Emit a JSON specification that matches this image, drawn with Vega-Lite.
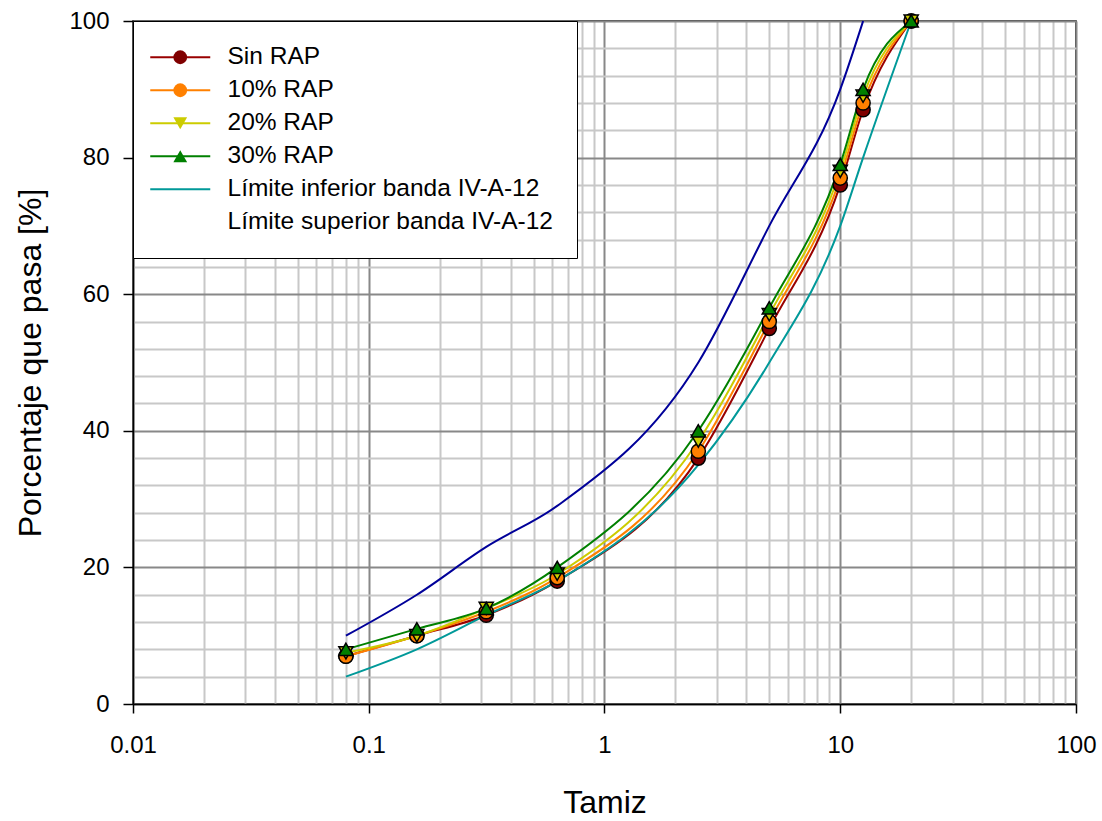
{
  "$schema": "https://vega.github.io/schema/vega-lite/v6.json",
  "autosize": "none",
  "width": 943,
  "height": 683,
  "padding": {"left": 133, "top": 21, "right": 26, "bottom": 117},
  "background": "white",
  "config": {
    "font": "Liberation Sans",
    "view": {"stroke": "black", "strokeWidth": 1.5},
    "axis": {"labelFont": "Liberation Sans", "titleFont": "Liberation Sans", "titleFontWeight": "normal", "labelColor": "black", "titleColor": "black"}
  },
  "datasets": {
    "gran": [
      {"t": 0.08, "p": 7, "s": "Sin RAP"},
      {"t": 0.16, "p": 10, "s": "Sin RAP"},
      {"t": 0.315, "p": 13, "s": "Sin RAP"},
      {"t": 0.63, "p": 18, "s": "Sin RAP"},
      {"t": 2.5, "p": 36, "s": "Sin RAP"},
      {"t": 5, "p": 55, "s": "Sin RAP"},
      {"t": 10, "p": 76, "s": "Sin RAP"},
      {"t": 12.5, "p": 87, "s": "Sin RAP"},
      {"t": 20, "p": 100, "s": "Sin RAP"},
      {"t": 0.08, "p": 7, "s": "10% RAP"},
      {"t": 0.16, "p": 10, "s": "10% RAP"},
      {"t": 0.315, "p": 13.5, "s": "10% RAP"},
      {"t": 0.63, "p": 18.5, "s": "10% RAP"},
      {"t": 2.5, "p": 37, "s": "10% RAP"},
      {"t": 5, "p": 56, "s": "10% RAP"},
      {"t": 10, "p": 77, "s": "10% RAP"},
      {"t": 12.5, "p": 88, "s": "10% RAP"},
      {"t": 20, "p": 100, "s": "10% RAP"},
      {"t": 0.08, "p": 7.5, "s": "20% RAP"},
      {"t": 0.16, "p": 10, "s": "20% RAP"},
      {"t": 0.315, "p": 14, "s": "20% RAP"},
      {"t": 0.63, "p": 19, "s": "20% RAP"},
      {"t": 2.5, "p": 38.5, "s": "20% RAP"},
      {"t": 5, "p": 57, "s": "20% RAP"},
      {"t": 10, "p": 78, "s": "20% RAP"},
      {"t": 12.5, "p": 89, "s": "20% RAP"},
      {"t": 20, "p": 100, "s": "20% RAP"},
      {"t": 0.08, "p": 8, "s": "30% RAP"},
      {"t": 0.16, "p": 11, "s": "30% RAP"},
      {"t": 0.315, "p": 14, "s": "30% RAP"},
      {"t": 0.63, "p": 20, "s": "30% RAP"},
      {"t": 2.5, "p": 40, "s": "30% RAP"},
      {"t": 5, "p": 58, "s": "30% RAP"},
      {"t": 10, "p": 79, "s": "30% RAP"},
      {"t": 12.5, "p": 90, "s": "30% RAP"},
      {"t": 20, "p": 100, "s": "30% RAP"},
      {"t": 0.08, "p": 4, "s": "Límite inferior banda IV-A-12"},
      {"t": 0.16, "p": 8, "s": "Límite inferior banda IV-A-12"},
      {"t": 0.315, "p": 13, "s": "Límite inferior banda IV-A-12"},
      {"t": 0.63, "p": 18, "s": "Límite inferior banda IV-A-12"},
      {"t": 2.5, "p": 35, "s": "Límite inferior banda IV-A-12"},
      {"t": 5, "p": 50, "s": "Límite inferior banda IV-A-12"},
      {"t": 10, "p": 70, "s": "Límite inferior banda IV-A-12"},
      {"t": 12.5, "p": 80, "s": "Límite inferior banda IV-A-12"},
      {"t": 20, "p": 100, "s": "Límite inferior banda IV-A-12"},
      {"t": 0.08, "p": 10, "s": "Límite superior banda IV-A-12"},
      {"t": 0.16, "p": 16, "s": "Límite superior banda IV-A-12"},
      {"t": 0.315, "p": 23, "s": "Límite superior banda IV-A-12"},
      {"t": 0.63, "p": 29, "s": "Límite superior banda IV-A-12"},
      {"t": 2.5, "p": 50, "s": "Límite superior banda IV-A-12"},
      {"t": 5, "p": 70, "s": "Límite superior banda IV-A-12"},
      {"t": 10, "p": 90, "s": "Límite superior banda IV-A-12"},
      {"t": 12.5, "p": 100, "s": "Límite superior banda IV-A-12"}
    ]
  },
  "data": {"name": "gran"},
  "encoding": {
    "x": {
      "field": "t", "type": "quantitative",
      "scale": {"type": "log", "domain": [0.01, 100], "nice": false},
      "axis": {
        "title": "Tamiz",
        "titleFontSize": 32,
        "titlePadding": 30,
        "labelFontSize": 24,
        "labelPadding": 20,
        "format": "~g",
        "values": [0.01,0.02,0.03,0.04,0.05,0.06,0.07,0.08,0.09,0.1,0.2,0.3,0.4,0.5,0.6,0.7,0.8,0.9,1,2,3,4,5,6,7,8,9,10,20,30,40,50,60,70,80,90,100],
        "labelExpr": "abs(log(datum.value)/LN10 - round(log(datum.value)/LN10)) < 0.001 ? datum.label : ''",
        "labelFlush": false,
        "labelOverlap": false,
        "domainColor": "black",
        "domainWidth": 1.5,
        "tickColor": "black",
        "tickWidth": 1.5,
        "tickSize": 9,
        "tickOpacity": {"condition": {"test": "abs(log(datum.value)/LN10 - round(log(datum.value)/LN10)) < 0.001", "value": 1}, "value": 0},
        "grid": true,
        "gridWidth": 2,
        "gridOpacity": 1,
        "gridColor": {"condition": {"test": "abs(log(datum.value)/LN10 - round(log(datum.value)/LN10)) < 0.001", "value": "#888888"}, "value": "#c8c8c8"}
      }
    },
    "y": {
      "field": "p", "type": "quantitative",
      "scale": {"domain": [0, 100], "nice": false},
      "axis": {
        "title": "Porcentaje que pasa [%]",
        "titleFontSize": 32,
        "titlePadding": 21,
        "labelFontSize": 24,
        "labelPadding": 14,
        "values": [0,4,8,12,16,20,24,28,32,36,40,44,48,52,56,60,64,68,72,76,80,84,88,92,96,100],
        "labelExpr": "datum.value % 20 == 0 ? datum.label : ''",
        "labelOverlap": false,
        "domainColor": "black",
        "domainWidth": 1.5,
        "tickColor": "black",
        "tickWidth": 1.5,
        "tickSize": 10,
        "tickOpacity": {"condition": {"test": "datum.value % 20 == 0", "value": 1}, "value": 0},
        "grid": true,
        "gridWidth": 2,
        "gridOpacity": 1,
        "gridColor": {"condition": {"test": "datum.value % 20 == 0", "value": "#888888"}, "value": "#c8c8c8"}
      }
    }
  },
  "layer": [
    {
      "mark": {"type": "line", "interpolate": "monotone", "strokeWidth": 2},
      "encoding": {
        "stroke": {
          "field": "s", "type": "nominal",
          "scale": {
            "domain": ["Sin RAP", "10% RAP", "20% RAP", "30% RAP", "Límite inferior banda IV-A-12", "Límite superior banda IV-A-12"],
            "range": ["#990000", "#ff8000", "#cccc00", "#008000", "#009999", "#000099"]
          },
          "legend": {
            "title": null,
            "orient": "none",
            "legendX": 0,
            "legendY": 0,
            "padding": 24,
            "fillColor": "white",
            "strokeColor": "black",
            "symbolType": "M-1.9,0H4.1",
            "symbolSize": 400,
            "symbolStrokeWidth": 2,
            "labelFontSize": 24.5,
            "labelFont": "Liberation Sans",
            "labelColor": "black",
            "labelOffset": 46,
            "labelLimit": 600,
            "rowPadding": 8,
            "encode": {"symbols": {"update": {"strokeOpacity": {"signal": "datum.value == 'Límite superior banda IV-A-12' ? 0 : 1"}}}}
          }
        }
      }
    },
    {
      "transform": [{"filter": "indexof(datum.s, 'Límite') < 0"}],
      "mark": {"type": "point", "filled": true, "size": 200, "stroke": "black", "strokeWidth": 1.5, "opacity": 1},
      "encoding": {
        "shape": {
          "field": "s", "type": "nominal",
          "scale": {"domain": ["Sin RAP", "10% RAP", "20% RAP", "30% RAP"], "range": ["circle", "circle", "triangle-down", "triangle-up"]},
          "legend": {
            "title": null,
            "orient": "none",
            "legendX": 11,
            "legendY": 0,
            "padding": 24,
            "symbolSize": 190,
            "symbolStrokeColor": "black",
            "symbolStrokeWidth": 1.5,
            "labelFontSize": 24.5,
            "labelExpr": "''",
            "labelOffset": 16,
            "rowPadding": 8
          }
        },
        "fill": {
          "field": "s", "type": "nominal",
          "scale": {"domain": ["Sin RAP", "10% RAP", "20% RAP", "30% RAP"], "range": ["#800000", "#ff8000", "#cccc00", "#008000"]},
          "legend": {
            "title": null,
            "orient": "none",
            "legendX": 11,
            "legendY": 0,
            "padding": 24,
            "symbolSize": 190,
            "symbolStrokeColor": "black",
            "symbolStrokeWidth": 1.5,
            "labelFontSize": 24.5,
            "labelExpr": "''",
            "labelOffset": 16,
            "rowPadding": 8
          }
        }
      }
    }
  ]
}
